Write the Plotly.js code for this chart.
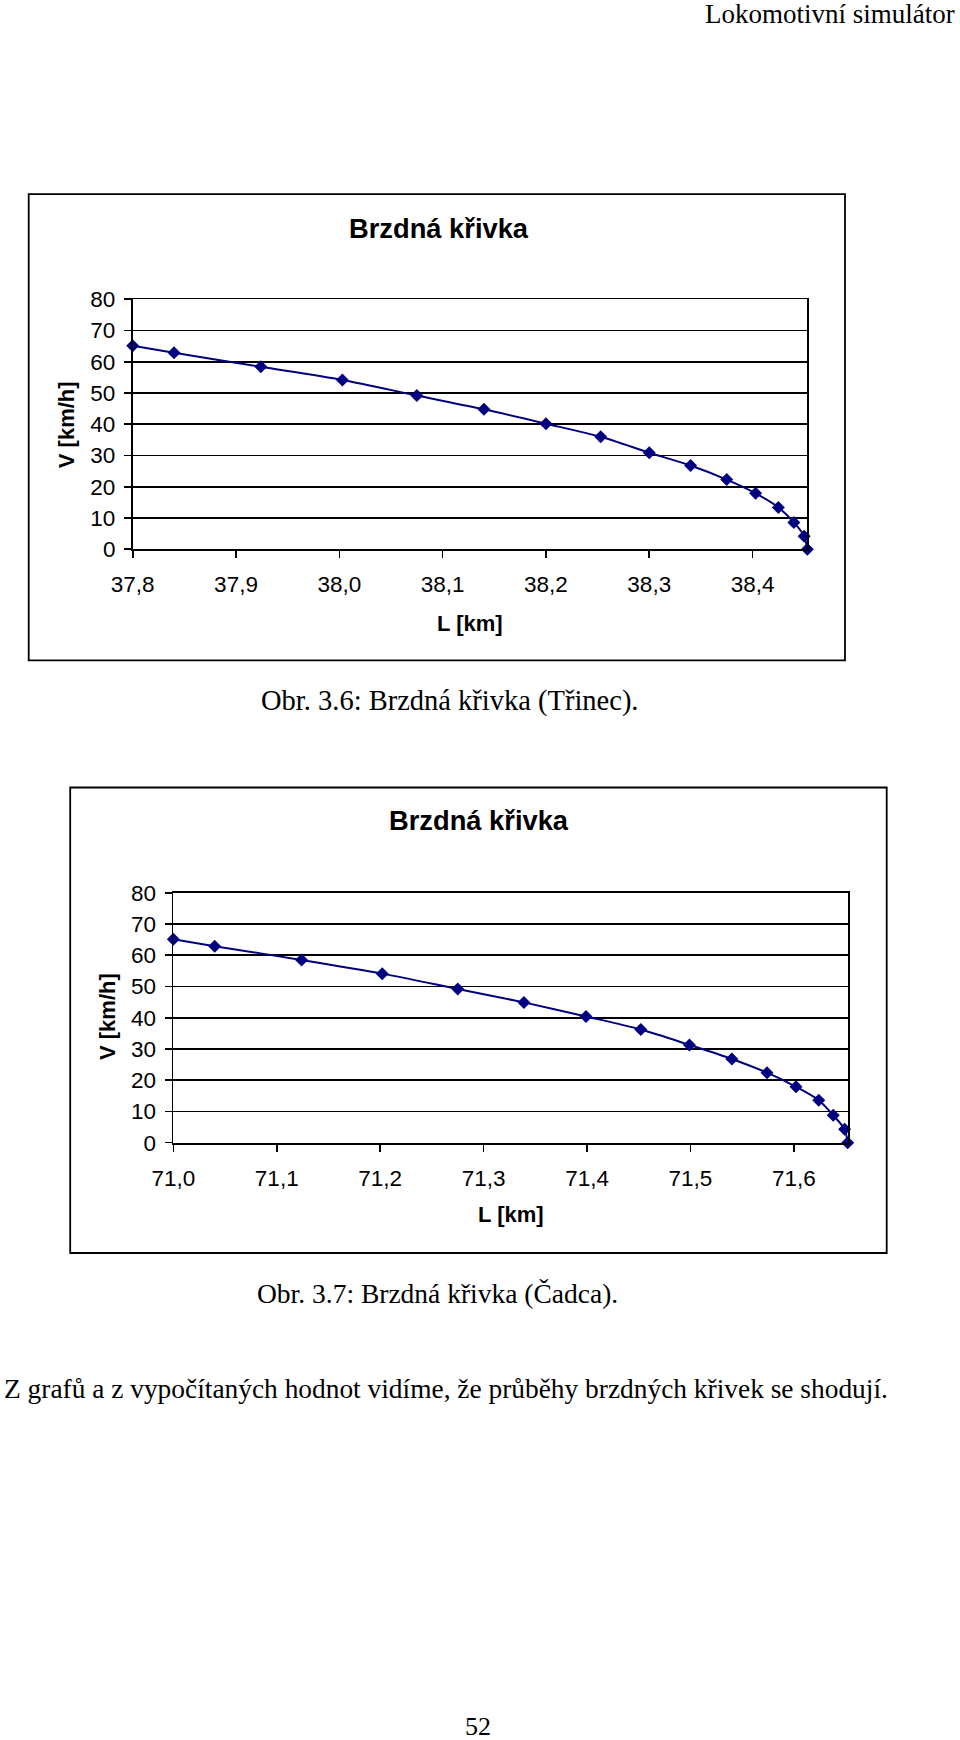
<!DOCTYPE html>
<html>
<head>
<meta charset="utf-8">
<script src="https://cdn.plot.ly/plotly-3.0.1.min.js"></script>
<style>
  html, body { margin: 0; padding: 0; background: #fff; }
  #chart { width: 960px; height: 1740px; }
</style>
</head>
<body>
<div id="chart"></div>
<script>
// ---- Data ----
// Chart 1: Brzdná křivka (Třinec)
const distTrinec = [37.800, 37.840, 37.924, 38.003, 38.075, 38.140, 38.200, 38.253, 38.300, 38.340, 38.375, 38.403, 38.425, 38.440, 38.450, 38.453];
const speedTrinec = [65.1, 62.9, 58.4, 54.2, 49.2, 44.8, 40.2, 36.0, 30.9, 26.8, 22.3, 17.9, 13.4, 8.6, 4.2, 0];
// Chart 2: Brzdná křivka (Čadca)
const distCadca = [71.000, 71.040, 71.124, 71.202, 71.275, 71.339, 71.399, 71.452, 71.499, 71.540, 71.574, 71.602, 71.624, 71.638, 71.649, 71.652];
const speedCadca = [65.1, 62.9, 58.5, 54.1, 49.2, 44.9, 40.4, 36.2, 31.3, 26.8, 22.4, 17.9, 13.6, 8.8, 4.3, 0];

const chartTitle = 'Brzdná křivka';
const xTitle = 'L [km]';
const yTitle = 'V [km/h]';
const headerText = 'Lokomotivní simulátor';
const caption1 = 'Obr. 3.6: Brzdná křivka (Třinec).';
const caption2 = 'Obr. 3.7: Brzdná křivka (Čadca).';
const paragraph = 'Z grafů a z vypočítaných hodnot vidíme, že průběhy brzdných křivek se shodují.';
const pageNumber = '52';

// ---- Layout helpers (pixel -> paper) ----
const W = 960, H = 1740;
const px = x => x / W;
const py = y => 1 - y / H;

const SANS = '"Liberation Sans", Arial, sans-serif';
const SERIF = '"Liberation Serif", "Times New Roman", serif';
const NAVY = '#000080';

function series(x, y, xa, ya) {
  return {
    type: 'scatter', mode: 'lines+markers', x: x, y: y, xaxis: xa, yaxis: ya,
    line: { color: NAVY, width: 2, shape: 'spline', smoothing: 0.8 },
    marker: { symbol: 'diamond', size: 10, color: NAVY, line: { width: 0 } },
    cliponaxis: false, hoverinfo: 'x+y'
  };
}

function xAxis(domain, range, anchor) {
  return {
    domain: domain, anchor: anchor, range: range, tick0: range[0], dtick: 0.1,
    tickformat: '.1f', ticks: 'outside', ticklen: 7, tickwidth: 1.6, tickcolor: '#000',
    showline: true, linecolor: '#000', linewidth: 1.8, mirror: true,
    showgrid: false, zeroline: false, ticklabelstandoff: 7,
    tickfont: { family: SANS, size: 22.5, color: '#000' }, fixedrange: true
  };
}
function yAxis(domain, anchor) {
  return {
    domain: domain, anchor: anchor, range: [0, 80], tick0: 0, dtick: 10,
    ticks: 'outside', ticklen: 7, tickwidth: 1.6, tickcolor: '#000',
    showline: true, linecolor: '#000', linewidth: 1.8, mirror: true,
    showgrid: true, gridcolor: '#000', gridwidth: 1.8, zeroline: false,
    ticklabelstandoff: 4,
    tickfont: { family: SANS, size: 22.5, color: '#000' }, fixedrange: true
  };
}

function ann(text, x, y, opts) {
  return Object.assign({
    text: text, xref: 'paper', yref: 'paper', x: px(x), y: py(y),
    xanchor: 'center', yanchor: 'middle', showarrow: false
  }, opts || {});
}

const data = [
  series(distTrinec, speedTrinec, 'x', 'y'),
  series(distCadca, speedCadca, 'x2', 'y2')
];

const layout = {
  width: W, height: H,
  margin: { l: 0, r: 0, t: 0, b: 0, pad: 0 },
  paper_bgcolor: '#fff', plot_bgcolor: '#fff',
  showlegend: false,
  separators: ', ',
  font: { family: SANS, color: '#000', size: 22 },
  xaxis: xAxis([px(132.7), px(807.3)], [distTrinec[0], distTrinec[distTrinec.length - 1]], 'y'),
  yaxis: yAxis([py(549.3), py(299.3)], 'x'),
  xaxis2: xAxis([px(173.3), px(847.7)], [distCadca[0], distCadca[distCadca.length - 1]], 'y2'),
  yaxis2: yAxis([py(1142.7), py(892.7)], 'x2'),
  shapes: [
    { type: 'rect', xref: 'paper', yref: 'paper', x0: px(28.7), x1: px(845), y0: py(660.3), y1: py(194.2),
      line: { color: '#000', width: 1.8 }, fillcolor: 'rgba(0,0,0,0)', layer: 'below' },
    { type: 'rect', xref: 'paper', yref: 'paper', x0: px(70.2), x1: px(886.7), y0: py(1253), y1: py(787.5),
      line: { color: '#000', width: 1.8 }, fillcolor: 'rgba(0,0,0,0)', layer: 'below' }
  ],
  annotations: [
    // page header
    ann(headerText, 957, 14, { xanchor: 'right', font: { family: SERIF, size: 27, color: '#000' } }),
    // chart 1
    ann('<b>' + chartTitle + '</b>', 438.8, 228, { font: { family: SANS, size: 27.3, color: '#000' } }),
    ann('<b>' + yTitle + '</b>', 66.7, 424.5, { textangle: -90, font: { family: SANS, size: 22, color: '#000' } }),
    ann('<b>' + xTitle + '</b>', 469.5, 623, { font: { family: SANS, size: 22, color: '#000' } }),
    ann(caption1, 449.5, 701, { font: { family: SERIF, size: 28.5, color: '#000' } }),
    // chart 2
    ann('<b>' + chartTitle + '</b>', 478.8, 821, { font: { family: SANS, size: 27.3, color: '#000' } }),
    ann('<b>' + yTitle + '</b>', 107.5, 1016.5, { textangle: -90, font: { family: SANS, size: 22, color: '#000' } }),
    ann('<b>' + xTitle + '</b>', 510.6, 1214, { font: { family: SANS, size: 22, color: '#000' } }),
    ann(caption2, 437.8, 1293, { font: { family: SERIF, size: 27.5, color: '#000' } }),
    // body text
    ann(paragraph, 2, 1389, { xanchor: 'left', font: { family: SERIF, size: 27.4, color: '#000' } }),
    ann(pageNumber, 478, 1726, { font: { family: SERIF, size: 26, color: '#000' } })
  ]
};

Plotly.newPlot('chart', data, layout, { displayModeBar: false, staticPlot: true });
</script>
</body>
</html>
